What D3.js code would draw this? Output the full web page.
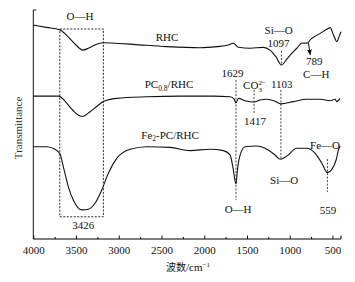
<!DOCTYPE html>
<html>
<head>
<meta charset="utf-8">
<script src="https://cdn.jsdelivr.net/npm/d3@7"></script>
<style>
body { margin: 0; background: #fff; }
text { font-family: "Liberation Serif", "DejaVu Serif", serif; font-size: 11px; fill: #111; }
.cjk { font-family: "Noto Sans CJK SC", sans-serif; font-size: 10px; }
</style>
</head>
<body>
<div id="chart"></div>
<script>
// wavenumbers (cm-1) and transmittance (arbitrary units)
var rhcWave = [4000, 3850, 3687, 3600, 3500, 3422, 3350, 3280, 3184, 3000, 2829, 2438, 2049, 1853, 1720, 1659, 1600, 1463, 1308, 1230, 1160, 1097, 1040, 995, 917, 858, 789, 761, 700, 644, 560, 527, 488, 449, 420, 400];
var rhcT    = [93.4, 92.4, 91.3, 88.6, 84.7, 82.5, 83.4, 84.7, 85.7, 85.4, 85.0, 84.0, 83.5, 84.0, 84.7, 85.5, 83.7, 83.3, 83.7, 82.5, 79.5, 76.0, 78.2, 80.3, 83.3, 85.5, 85.6, 86.9, 88.6, 89.8, 91.7, 92.3, 89.1, 86.2, 88.6, 90.5];

var pcWave = [4000, 3707, 3650, 3609, 3530, 3453, 3426, 3336, 3250, 3180, 3024, 2673, 2283, 1893, 1698, 1650, 1629, 1600, 1522, 1417, 1346, 1268, 1180, 1103, 956, 800, 644, 527, 469, 449, 410];
var pcT    = [62.4, 62.4, 61.1, 59.3, 55.9, 53.7, 53.5, 55.6, 58.1, 60.0, 61.4, 62.1, 62.4, 62.4, 62.1, 61.1, 59.4, 61.4, 60.4, 59.8, 60.7, 61.0, 60.3, 59.0, 60.0, 61.0, 61.0, 60.4, 61.0, 60.0, 61.4];

var feWave = [4000, 3843, 3746, 3687, 3649, 3590, 3532, 3434, 3356, 3278, 3199, 3122, 3024, 2868, 2673, 2400, 2166, 1932, 1776, 1698, 1666, 1629, 1612, 1580, 1522, 1385, 1268, 1171, 1112, 1034, 917, 800, 702, 624, 559, 507, 457, 430, 410];
var feT    = [40.3, 40.3, 39.2, 37.1, 31.6, 22.8, 17.0, 12.7, 13.0, 15.6, 21.4, 28.7, 35.2, 39.2, 40.3, 40.0, 38.6, 39.2, 38.6, 36.7, 31.6, 24.0, 30.1, 36.7, 40.3, 40.6, 39.2, 36.7, 34.8, 36.2, 39.6, 39.6, 37.4, 33.1, 29.0, 30.4, 34.5, 38.9, 40.6];

var xTicks = [4000, 3500, 3000, 2500, 2000, 1500, 1000, 500];
var xMinor = [3750, 3250, 2750, 2250, 1750, 1250, 750];

// marked bands: wavenumber, top and bottom of the dashed guide
var guideWave = [1097, 1629, 1417, 1103, 559];
var guideTop  = [82.1, 69.4, 65.1, 65.1, 34.9];
var guideBot  = [76.0, 17.0, 55.0, 34.5, 20.5];

var w = 355, h = 282;
var x = d3.scaleLinear().domain([4000, 400]).range([33.3, 341]);
var y = d3.scaleLinear().domain([0, 100]).range([239, 10]);

var svg = d3.select("#chart").append("svg")
	.attr("width", w)
	.attr("height", h);

// axes
var xAxis = d3.axisBottom(x).tickValues(xTicks).tickSize(-3.5).tickPadding(7).tickFormat(d3.format("d"));
var gx = svg.append("g")
	.attr("transform", "translate(0," + y(0) + ")")
	.attr("font-family", null)
	.call(xAxis);
gx.select(".domain").attr("d", "M" + x(4000) + ",0H" + x(400) + "V-3.5");
gx.selectAll("text").style("font-size", "11px").attr("fill", "#111");
gx.selectAll("line").attr("stroke", "#111");

svg.append("g")
	.attr("transform", "translate(0," + y(0) + ")")
	.call(d3.axisBottom(x).tickValues(xMinor).tickSize(-2).tickFormat(""))
	.select(".domain").remove();

svg.append("path")
	.attr("d", "M" + (x(4000) + 3) + "," + y(100) + "H" + x(4000) + "V" + y(0))
	.attr("fill", "none")
	.attr("stroke", "#111");

svg.append("text")
	.attr("transform", "translate(22," + y(48.5) + ") rotate(-90)")
	.attr("text-anchor", "middle")
	.style("fill", "#333")
	.text("Transmittance");

var xl = svg.append("text")
	.attr("x", 188)
	.attr("y", 271)
	.attr("text-anchor", "middle");
xl.append("tspan").attr("class", "cjk").text("波数");
xl.append("tspan").text("/cm");
xl.append("tspan").attr("dy", -4).style("font-size", "7px").text("−1");

// spectra
var line = d3.line()
	.x(function(d) { return x(d[0]); })
	.y(function(d) { return y(d[1]); })
	.curve(d3.curveMonotoneX);

[[rhcWave, rhcT], [pcWave, pcT], [feWave, feT]].forEach(function(s) {
	svg.append("path")
		.datum(d3.zip(s[0], s[1]))
		.attr("d", line)
		.attr("fill", "none")
		.attr("stroke", "#111")
		.attr("stroke-width", 1.1);
});

// dashed box round O-H band
svg.append("rect")
	.attr("x", x(3690))
	.attr("y", y(91.7))
	.attr("width", x(3180) - x(3690))
	.attr("height", y(9.7) - y(91.7))
	.attr("fill", "none")
	.attr("stroke", "#111")
	.attr("stroke-width", 0.9)
	.attr("stroke-dasharray", "2,1.5");

// dashed guides
svg.selectAll(".guide")
	.data(guideWave)
	.enter()
	.append("line")
	.attr("x1", function(d) { return x(d); })
	.attr("x2", function(d) { return x(d); })
	.attr("y1", function(d, i) { return y(guideTop[i]); })
	.attr("y2", function(d, i) { return y(guideBot[i]); })
	.attr("stroke", "#111")
	.attr("stroke-width", 0.8)
	.attr("stroke-dasharray", "2,1.5");

// arrow at 789
svg.append("defs").append("marker")
	.attr("id", "arr")
	.attr("viewBox", "0 0 10 10")
	.attr("refX", 8).attr("refY", 5)
	.attr("markerWidth", 6).attr("markerHeight", 6)
	.attr("orient", "auto")
	.append("path")
	.attr("d", "M0,1L10,5L0,9Z")
	.attr("fill", "#111");

svg.append("line")
	.attr("x1", x(781)).attr("y1", y(85.7))
	.attr("x2", x(761)).attr("y2", y(80.6))
	.attr("stroke", "#111")
	.attr("marker-end", "url(#arr)");

// labels
var labels = [
	["O—H", 3453, 95.6],
	["RHC", 2435, 86.5],
	["Si—O", 1130, 89.5],
	["1097", 1130, 83.8],
	["789", 714, 75.8],
	["C—H", 690, 70.5],
	["1629", 1668, 70.7],
	["1103", 1093, 65.9],
	["1417", 1405, 50.0],
	["3426", 3415, 4.4],
	["Si—O", 1065, 24.0],
	["O—H", 1604, 11.4],
	["Fe—O", 587, 39.3],
	["559", 552, 10.9]
];

svg.selectAll(".lbl")
	.data(labels)
	.enter()
	.append("text")
	.attr("x", function(d) { return x(d[1]); })
	.attr("y", function(d) { return y(d[2]); })
	.attr("text-anchor", "middle")
	.text(function(d) { return d[0]; });

var pc = svg.append("text")
	.attr("x", x(2412)).attr("y", y(65.9))
	.attr("text-anchor", "middle");
pc.append("tspan").text("PC");
pc.append("tspan").attr("dy", 2.5).style("font-size", "7.5px").text("0.8");
pc.append("tspan").attr("dy", -2.5).text("/RHC");

var fe = svg.append("text")
	.attr("x", x(2400)).attr("y", y(43.7))
	.attr("text-anchor", "middle");
fe.append("tspan").text("Fe");
fe.append("tspan").attr("dy", 2.5).style("font-size", "7.5px").text("2");
fe.append("tspan").attr("dy", -2.5).text("-PC/RHC");

// carbonate label with stacked sub/superscript
svg.append("text")
	.attr("x", x(1546)).attr("y", y(65.5))
	.text("CO");
svg.append("text")
	.attr("x", x(1546) + 15.5).attr("y", y(65.5) + 2.5)
	.style("font-size", "7px")
	.text("3");
svg.append("text")
	.attr("x", x(1546) + 15.5).attr("y", y(65.5) - 4.5)
	.style("font-size", "7px")
	.text("2−");
</script>
</body>
</html>
